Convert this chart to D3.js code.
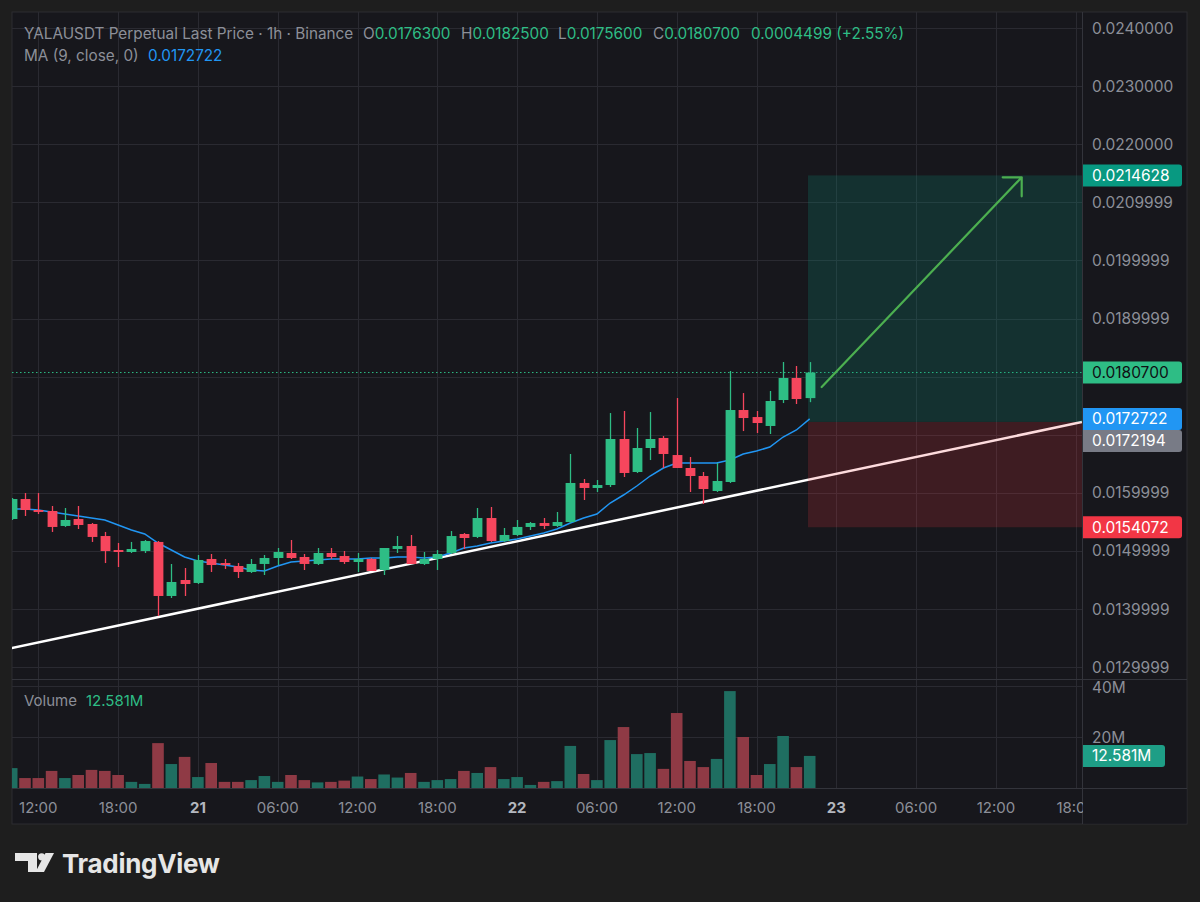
<!DOCTYPE html>
<html><head><meta charset="utf-8">
<script src="https://cdn.jsdelivr.net/npm/d3@7"></script>
<style>
html,body{margin:0;padding:0;background:#1e1e1e;}
svg{display:block;}
text{font-family:Inter,"Noto Sans",sans-serif;}
</style></head><body><svg id="c" width="1200" height="902"></svg>
<script>
// ---- DATA (hourly candles, index 0 = day 20 10:00) ----
const opens =[0.015549,0.015893,0.015704,0.015687,0.015429,0.015549,0.015463,0.015256,0.015015,0.014981,
0.014998,0.015154,0.014224,0.014499,0.014448,0.014861,0.014791,0.014740,0.014637,0.014775,
0.014878,0.014964,0.014895,0.014775,0.014964,0.014912,0.014809,0.014861,0.014671,0.015033,
0.015084,0.014775,0.014861,0.014964,0.015291,0.015240,0.015566,0.015170,0.015274,0.015412,
0.015480,0.015429,0.015497,0.016169,0.016083,0.016134,0.016926,0.016358,0.016771,0.016943,
0.016650,0.016427,0.016289,0.016031,0.016186,0.017425,0.017304,0.017150,0.017597,0.017976,0.0176300];
const highs =[0.015910,0.015996,0.015996,0.015773,0.015738,0.015773,0.015480,0.015326,0.015136,0.015154,
0.015188,0.015170,0.014775,0.014706,0.014929,0.014947,0.014861,0.014791,0.014861,0.014929,
0.015050,0.015188,0.014947,0.015050,0.015050,0.014998,0.014964,0.014878,0.015050,0.015256,
0.015274,0.014981,0.015015,0.015342,0.015308,0.015738,0.015756,0.015394,0.015532,0.015497,
0.015566,0.015670,0.016668,0.016237,0.016220,0.017373,0.017408,0.017115,0.017390,0.016977,
0.017631,0.016616,0.016358,0.016513,0.018096,0.017717,0.017408,0.017752,0.018251,0.018182,0.0182500];
const lows  =[0.015532,0.015601,0.015635,0.015326,0.015412,0.015377,0.015154,0.014791,0.014723,0.014964,
0.014964,0.013880,0.014189,0.014224,0.014430,0.014637,0.014689,0.014534,0.014620,0.014585,
0.014757,0.014861,0.014671,0.014757,0.014861,0.014775,0.014637,0.014654,0.014585,0.014964,
0.014775,0.014757,0.014671,0.014947,0.015033,0.015222,0.015154,0.015154,0.015256,0.015360,
0.015377,0.015412,0.015480,0.015876,0.016014,0.016100,0.016272,0.016341,0.016564,0.016427,
0.016427,0.016014,0.015807,0.016014,0.016169,0.017063,0.017029,0.017012,0.017545,0.017528,0.0175600];
const closes=[0.015893,0.015704,0.015670,0.015412,0.015532,0.015446,0.015240,0.014998,0.014981,0.015033,
0.015170,0.014224,0.014465,0.014430,0.014843,0.014757,0.014757,0.014637,0.014775,0.014878,
0.014981,0.014878,0.014775,0.014964,0.014895,0.014809,0.014861,0.014654,0.015050,0.015084,
0.014775,0.014861,0.014947,0.015256,0.015222,0.015566,0.015170,0.015274,0.015412,0.015480,
0.015429,0.015497,0.016169,0.016083,0.016134,0.016926,0.016341,0.016771,0.016926,0.016668,
0.016427,0.016289,0.016065,0.016203,0.017425,0.017287,0.017201,0.017580,0.017976,0.017614,0.0180700];
const volumesM=[7.8,3.9,3.9,6.7,3.9,5.1,7.1,6.7,5.1,2.4,1.6,17.6,9.4,12.2,4.3,9.8,2.4,2.4,3.1,4.7,2.4,
5.1,3.1,2.2,2.4,2.9,4.5,3.5,5.3,4.1,5.9,2.4,3.1,3.5,6.7,5.9,8.2,3.5,4.3,1.2,2.4,
2.7,16.5,5.5,3.1,18.8,23.9,13.3,13.7,7.5,29.4,10.6,8.2,11.4,38.0,20.0,5.1,9.4,20.4,8.2,12.581];
const ma9=[0.015721,0.015721,0.015704,0.015670,0.015635,0.015601,0.015566,0.015532,0.015446,0.015360,
0.015291,0.015136,0.015015,0.014895,0.014826,0.014791,0.014757,0.014723,0.014671,0.014654,
0.014740,0.014809,0.014826,0.014843,0.014861,0.014861,0.014861,0.014878,0.014878,0.014895,
0.014895,0.014878,0.014895,0.014964,0.015050,0.015084,0.015136,0.015170,0.015205,0.015256,
0.015308,0.015377,0.015480,0.015566,0.015635,0.015824,0.015962,0.016117,0.016289,0.016427,
0.016513,0.016513,0.016513,0.016513,0.016564,0.016668,0.016719,0.016788,0.016960,0.017081,0.0172722];

const priceTicks=[0.024,0.023,0.022,0.021,0.020,0.019,0.018,0.017,0.016,0.015,0.014,0.013];
const priceTickLabels=["0.0240000","0.0230000","0.0220000","0.0209999","0.0199999","0.0189999",
"0.0180000","0.0170000","0.0159999","0.0149999","0.0139999","0.0129999"];
const volTicks=[20,40];
const volTickLabels=["20M","40M"];
const timeTickHours=[2,8,14,20,26,32,38,44,50,56,62,68,74,80];
const timeTickLabels=["12:00","18:00","21","06:00","12:00","18:00","22","06:00","12:00","18:00","23","06:00","12:00","18:00"];
const dayLabels=["21","22","23"];

const trendline=[[0,0.013329],[80.47,0.0172194]];
const position={start:59.87,end:90,entry:0.0172194,target:0.0214628,stop:0.0154072};
const arrow=[[60.9,0.017821],[75.94,0.021430]];
const header={symbol:"YALAUSDT Perpetual Last Price · 1h · Binance",
  O:"0.0176300",H:"0.0182500",L:"0.0175600",C:"0.0180700",chg:"0.0004499 (+2.55%)",
  ma:"MA (9, close, 0)",maVal:"0.0172722",vol:"12.581M"};

// ---- STYLE ----
const UP="#2ebd85", DN="#f6465d", GRID="#2a2a31", TXT="#8c8f98", BG="#17171c";
const VUP="#1f6e61", VDN="#8f3a45";

const svg=d3.select("#c");
const L=12,T=12,R=1187,B=824,PR=1082,PB=679,VB=788;

svg.append("rect").attr("x",L).attr("y",T).attr("width",R-L).attr("height",B-T).attr("fill",BG).attr("stroke","#2c2c31");

const x=d3.scaleLinear().domain([0,80]).range([11.7,1075.7]);
const y=d3.scaleLinear().domain([0.013,0.024]).range([667.1,28]);
const yv=d3.scaleLinear().domain([0,40]).range([VB,686]);

const defs=svg.append("defs");
defs.append("clipPath").attr("id","cp").append("rect").attr("x",L).attr("y",T).attr("width",PR-L).attr("height",PB-T);
defs.append("clipPath").attr("id","cv").append("rect").attr("x",L).attr("y",PB).attr("width",PR-L).attr("height",VB-PB);

// grid
const g=svg.append("g");
g.selectAll(".hg").data(priceTicks).join("line").attr("x1",L).attr("x2",PR)
 .attr("y1",d=>Math.round(y(d))+0.5).attr("y2",d=>Math.round(y(d))+0.5).attr("stroke",GRID);
g.selectAll(".vg").data(volTicks).join("line").attr("x1",L).attr("x2",PR)
 .attr("y1",d=>Math.round(yv(d))+0.5).attr("y2",d=>Math.round(yv(d))+0.5).attr("stroke",GRID);
g.selectAll(".tg").data(timeTickHours).join("line").attr("y1",T).attr("y2",VB)
 .attr("x1",d=>Math.round(x(d))+0.5).attr("x2",d=>Math.round(x(d))+0.5).attr("stroke",GRID);

// separators
svg.append("line").attr("x1",L).attr("x2",R).attr("y1",PB+0.5).attr("y2",PB+0.5).attr("stroke","#33343b");
svg.append("line").attr("x1",L).attr("x2",R).attr("y1",VB+0.5).attr("y2",VB+0.5).attr("stroke","#33343b");
svg.append("line").attr("x1",PR+0.5).attr("x2",PR+0.5).attr("y1",T).attr("y2",B).attr("stroke","#33343b");

// price pane
const pp=svg.append("g").attr("clip-path","url(#cp)");
pp.append("line").attr("x1",L).attr("x2",PR).attr("y1",y(closes[60])).attr("y2",y(closes[60]))
 .attr("stroke",UP).attr("stroke-dasharray","1.5,2.5").attr("stroke-width",1);
pp.append("line").attr("x1",x(trendline[0][0])).attr("y1",y(trendline[0][1]))
 .attr("x2",x(trendline[1][0])).attr("y2",y(trendline[1][1])).attr("stroke","#ffffff").attr("stroke-width",2.5);
pp.append("rect").attr("x",x(position.start)).attr("width",x(position.end)-x(position.start))
 .attr("y",y(position.target)).attr("height",y(position.entry)-y(position.target))
 .attr("fill","rgba(8,153,129,0.2)");
pp.append("rect").attr("x",x(position.start)).attr("width",x(position.end)-x(position.start))
 .attr("y",y(position.entry)).attr("height",y(position.stop)-y(position.entry))
 .attr("fill","rgba(242,54,69,0.18)");
const idx=d3.range(closes.length);
pp.append("path").datum(idx).attr("fill","none").attr("stroke","#2196f3").attr("stroke-width",1.5)
 .attr("d",d3.line().x(i=>x(i)).y(i=>y(ma9[i])));
const cg=pp.selectAll(".cd").data(idx).join("g");
cg.append("line").attr("x1",i=>Math.round(x(i))+0.5).attr("x2",i=>Math.round(x(i))+0.5)
 .attr("y1",i=>y(highs[i])).attr("y2",i=>y(lows[i])).attr("stroke",i=>closes[i]>=opens[i]?UP:DN).attr("stroke-width",1.3);
cg.append("rect").attr("x",i=>Math.round(x(i))+0.5-4.9).attr("width",9.8)
 .attr("y",i=>y(Math.max(opens[i],closes[i])))
 .attr("height",i=>Math.max(1.5,Math.abs(y(opens[i])-y(closes[i]))))
 .attr("fill",i=>closes[i]>=opens[i]?UP:DN);
const ax1=x(arrow[0][0]),ay1=y(arrow[0][1]),ax2=x(arrow[1][0]),ay2=y(arrow[1][1]);
pp.append("path").attr("d",`M${ax1},${ay1}L${ax2},${ay2}M${ax2-19},${ay2}L${ax2},${ay2}L${ax2},${ay2+19}`)
 .attr("fill","none").attr("stroke","#4caf50").attr("stroke-width",2.2).attr("stroke-linecap","round").attr("stroke-linejoin","round");

// volume
const vp=svg.append("g").attr("clip-path","url(#cv)");
vp.selectAll("rect").data(idx).join("rect").attr("x",i=>x(i)-5.8).attr("width",11.6)
 .attr("y",i=>yv(volumesM[i])).attr("height",i=>VB-yv(volumesM[i]))
 .attr("fill",i=>closes[i]>=opens[i]?VUP:VDN);

// price badges (positions resolved so they do not overlap)
const badges=[
 {v:position.target,t:"0.0214628",bg:"#089981",fg:"#ffffff"},
 {v:closes[60],t:"0.0180700",bg:UP,fg:"#101014"},
 {v:ma9[60],t:"0.0172722",bg:"#2196f3",fg:"#ffffff"},
 {v:position.entry,t:"0.0172194",bg:"#787b86",fg:"#ffffff"},
 {v:position.stop,t:"0.0154072",bg:"#f23645",fg:"#ffffff"}];
let prev=-1e9;
badges.forEach(b=>{let cy=y(b.v); if(cy<prev+22) cy=prev+22; prev=cy; b.cy=cy;});

// right axis tick labels (hidden where a badge covers them, as on the reference)
const visTicks=priceTicks.map((d,i)=>({d,i})).filter(o=>badges.every(b=>Math.abs(b.cy-y(o.d))>17));
svg.selectAll(".pl").data(visTicks).join("text").attr("x",1092).attr("y",o=>y(o.d)+5.5)
 .attr("fill",TXT).attr("font-size",15.5).text(o=>priceTickLabels[o.i]);
svg.selectAll(".vl").data(volTicks).join("text").attr("x",1092).attr("y",(d,i)=>yv(d)+5.5+(d===40?1:0))
 .attr("fill",TXT).attr("font-size",15.5).text((d,i)=>volTickLabels[i]);

function badge(cy,t,bg,fg,w){
  svg.append("path").attr("d",`M${PR+1},${cy-11}H${PR+1+w-3}Q${PR+1+w},${cy-11} ${PR+1+w},${cy-8}V${cy+8}Q${PR+1+w},${cy+11} ${PR+1+w-3},${cy+11}H${PR+1}Z`).attr("fill",bg);
  svg.append("text").attr("x",1092).attr("y",cy+5.5).attr("fill",fg).attr("font-size",15.5).text(t);
}
badges.forEach(b=>badge(b.cy,b.t,b.bg,b.fg,99));
badge(yv(volumesM[60]),header.vol,"#1e9e86","#ffffff",82);

// x axis labels
svg.selectAll(".xl").data(timeTickHours).join("text").attr("x",d=>x(d)).attr("y",813)
 .attr("text-anchor","middle").attr("font-size",15)
 .attr("font-weight",(d,i)=>dayLabels.includes(timeTickLabels[i])?700:400)
 .attr("fill",(d,i)=>dayLabels.includes(timeTickLabels[i])?"#b4b7bf":TXT)
 .text((d,i)=>timeTickLabels[i]);
svg.append("rect").attr("x",PR+1).attr("y",VB+1).attr("width",R-PR-1.5).attr("height",B-VB-1.5).attr("fill",BG);

// header
const h1=svg.append("text").attr("y",38.5).attr("font-size",15.3);
h1.append("tspan").attr("x",24).attr("fill",TXT).text(header.symbol);
[["O",363],["H",461],["L",558],["C",653]].forEach(([k,px])=>{
  const tt=svg.append("text").attr("x",px).attr("y",38.5).attr("font-size",15.3);
  tt.append("tspan").attr("fill",TXT).text(k);
  tt.append("tspan").attr("fill",UP).text(header[k]);
});
svg.append("text").attr("x",751).attr("y",38.5).attr("font-size",15.3).attr("fill",UP).text(header.chg);
svg.append("text").attr("x",24).attr("y",60.5).attr("font-size",15.3).attr("fill",TXT).text(header.ma);
svg.append("text").attr("x",148).attr("y",60.5).attr("font-size",15.3).attr("fill","#2196f3").text(header.maVal);
svg.append("text").attr("x",24).attr("y",705.5).attr("font-size",15).attr("fill",TXT).text("Volume");
svg.append("text").attr("x",86).attr("y",705.5).attr("font-size",15).attr("fill",UP).text(header.vol);

// logo
const lg=svg.append("g").attr("fill","#e6e6e6");
lg.append("path").attr("d","M15,853H37V872H28V861H15Z");
lg.append("circle").attr("cx",41.7).attr("cy",856.8).attr("r",3.6);
lg.append("path").attr("d","M45.5,853H54L44,872H35.5Z");
lg.append("text").attr("x",62).attr("y",873).attr("font-size",26).attr("font-weight",700).attr("letter-spacing",-0.3).text("TradingView");
</script></body></html>
